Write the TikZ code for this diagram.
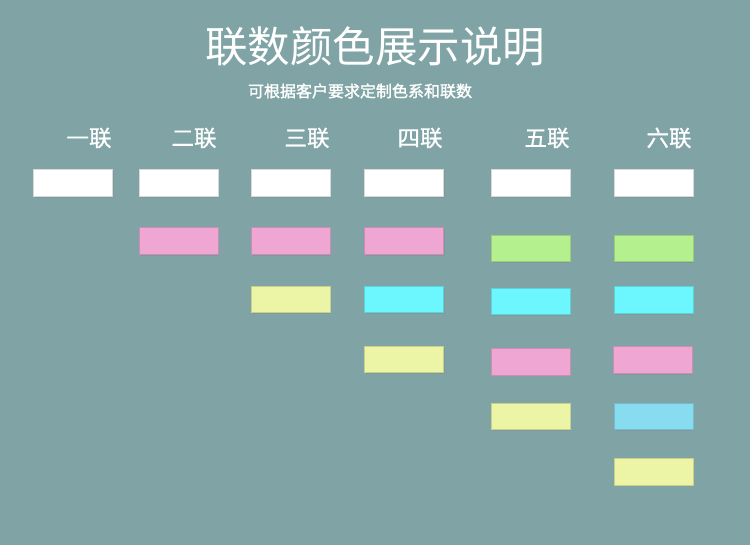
\documentclass[tikz,border=0pt]{standalone}
\usepackage{fontspec}
\newfontfamily\cjk{Noto Sans CJK SC}
\newfontfamily\cjkb[FakeBold=1.6]{Noto Sans CJK SC}
\newfontfamily\cjkm[FakeBold=0.6]{Noto Sans CJK SC}
\usetikzlibrary{shadows}
\definecolor{bg}{HTML}{80A4A5}
\definecolor{cwhite}{HTML}{FFFFFF}
\definecolor{cpink}{HTML}{F0A6D2}
\definecolor{cgreen}{HTML}{B5F08F}
\definecolor{ccyan}{HTML}{6CF7FF}
\definecolor{cyellow}{HTML}{ECF4A6}
\definecolor{cblue}{HTML}{88DCF0}
\tikzset{
  swatch/.style={draw=#1!85!black, line width=0.6pt, fill=#1, minimum width=79pt, minimum height=26.5pt, inner sep=0pt,
    drop shadow={opacity=0.25, shadow xshift=1.2pt, shadow yshift=-1.5pt}},
  head/.style={text=white, font=\cjkm\fontsize{22.5}{26}\selectfont, inner sep=0pt},
}
\begin{document}
\begin{tikzpicture}[x=1pt,y=-1pt]
\fill[bg] (0,0) rectangle (750,545);
\useasboundingbox (0,0) rectangle (750,545);
\node[text=white, font=\cjk\fontsize{42.5}{48}\selectfont, inner sep=0pt] (title) at (375,46) {联数颜色展示说明};
\node[text=white, font=\cjkb\fontsize{16}{19}\selectfont, inner sep=0pt] (sub) at (360,91) {可根据客户要求定制色系和联数};
\node[head] (h1) at (89,138) {一联};
\node[head] (h2) at (194,138) {二联};
\node[head] (h3) at (307,138) {三联};
\node[head] (h4) at (420,138) {四联};
\node[head] (h5) at (547,138) {五联};
\node[head] (h6) at (669,138) {六联};
% column 1
\node[swatch=cwhite] (a1) at (73,183) {};
% column 2
\node[swatch=cwhite] (b1) at (178.5,183) {};
\node[swatch=cpink] (b2) at (178.5,241) {};
% column 3
\node[swatch=cwhite] (c1) at (290.5,183) {};
\node[swatch=cpink] (c2) at (290.5,241) {};
\node[swatch=cyellow] (c3) at (290.5,299.5) {};
% column 4
\node[swatch=cwhite] (d1) at (404,183) {};
\node[swatch=cpink] (d2) at (404,241) {};
\node[swatch=ccyan] (d3) at (404,299.5) {};
\node[swatch=cyellow] (d4) at (404,359.5) {};
% column 5
\node[swatch=cwhite] (e1) at (530.5,183) {};
\node[swatch=cgreen] (e2) at (530.5,248.5) {};
\node[swatch=ccyan] (e3) at (530.5,301.5) {};
\node[swatch=cpink] (e4) at (530.5,361.7) {};
\node[swatch=cyellow] (e5) at (530.5,416.3) {};
% column 6
\node[swatch=cwhite] (f1) at (653.5,183) {};
\node[swatch=cgreen] (f2) at (653.5,248.5) {};
\node[swatch=ccyan] (f3) at (653.5,299.8) {};
\node[swatch=cpink] (f4) at (652.5,359.8) {};
\node[swatch=cblue] (f5) at (653.5,416.3) {};
\node[swatch=cyellow] (f6) at (653.5,471.6) {};
\end{tikzpicture}
\end{document}
